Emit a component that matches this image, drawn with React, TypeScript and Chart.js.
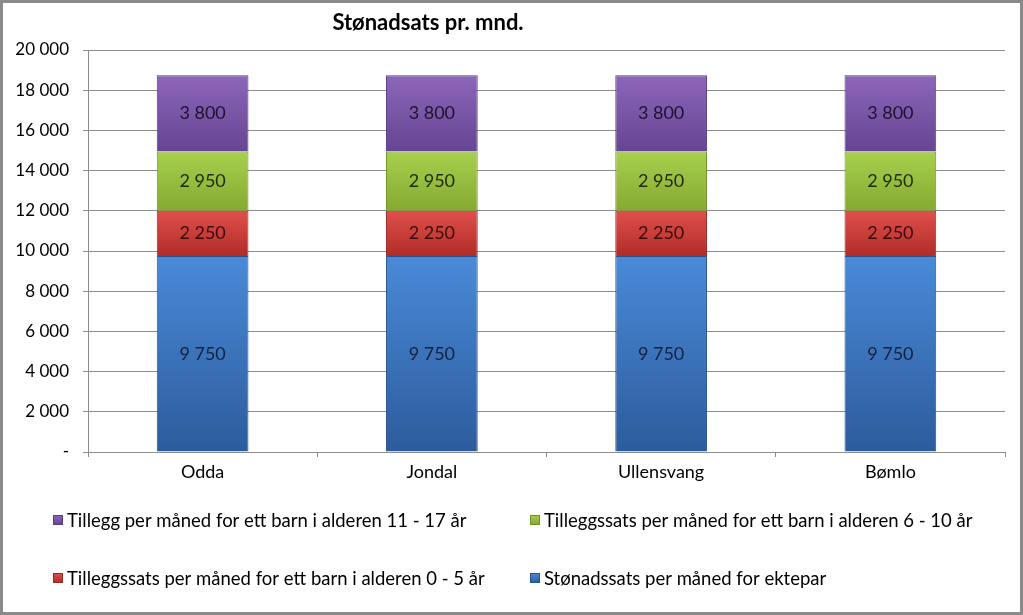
import React, { useEffect, useRef } from "react";
import { Chart, registerables } from "chart.js";

Chart.register(...registerables);

const categories = ["Odda", "Jondal", "Ullensvang", "Bømlo"];
const seriesNames = [
  "Stønadssats per måned for ektepar",
  "Tilleggssats per måned for ett barn i alderen 0 - 5 år",
  "Tilleggssats per måned for ett barn i alderen 6 - 10 år",
  "Tillegg per måned for ett barn i alderen 11 - 17 år",
];
const ektepar = [9750, 9750, 9750, 9750];
const barn0to5 = [2250, 2250, 2250, 2250];
const barn6to10 = [2950, 2950, 2950, 2950];
const barn11to17 = [3800, 3800, 3800, 3800];
const yTicks = [0, 2000, 4000, 6000, 8000, 10000, 12000, 14000, 16000, 18000, 20000];
const titleText = "Stønadsats pr. mnd.";

const palette = [
  { top: "#4a8ad8", bottom: "#2c5c9c", border: "#28538c", text: "#14223f" },
  { top: "#e0504b", bottom: "#b02c29", border: "#962826", text: "#3a0c0b" },
  { top: "#a8d04e", bottom: "#84aa30", border: "#70922a", text: "#1e2a08" },
  { top: "#8c66ba", bottom: "#664592", border: "#583c80", text: "#1e1230" },
];

const FONT = "Lato, 'Open Sans', sans-serif";

const fmt = (v: number) => {
  if (v === 0) return "-";
  return String(v).replace(/\B(?=(\d{3})+(?!\d))/g, " ");
};

export default function App() {
  const ref = useRef<HTMLCanvasElement | null>(null);

  useEffect(() => {
    document.body.style.margin = "0";
    const canvas = ref.current!;
    const values = [ektepar, barn0to5, barn6to10, barn11to17];

    const makeBg = (i: number) => (c: any) => {
      const chart = c.chart;
      const ys = chart.scales && chart.scales.y;
      if (!chart.chartArea || !ys || c.dataIndex === undefined) return palette[i].top;
      let start = 0;
      for (let k = 0; k < i; k++) start += values[k][c.dataIndex];
      const end = start + values[i][c.dataIndex];
      const y0 = ys.getPixelForValue(end);
      const y1 = ys.getPixelForValue(start);
      if (!isFinite(y0) || !isFinite(y1) || y1 - y0 < 1) return palette[i].top;
      const g = chart.ctx.createLinearGradient(0, y0, 0, y1);
      g.addColorStop(0, palette[i].top);
      g.addColorStop(1, palette[i].bottom);
      return g;
    };

    const overlay = {
      id: "overlay",
      afterDatasetsDraw(chart: any) {
        const ctx = chart.ctx;
        ctx.save();
        ctx.font = `18px ${FONT}`;
        ctx.textAlign = "center";
        ctx.textBaseline = "middle";
        chart.data.datasets.forEach((ds: any, i: number) => {
          const meta = chart.getDatasetMeta(i);
          meta.data.forEach((bar: any, j: number) => {
            ctx.fillStyle = palette[i].text;
            ctx.fillText(fmt(ds.data[j]), bar.x, (bar.y + bar.base) / 2);
          });
        });
        ctx.restore();
      },
      afterDraw(chart: any) {
        const ctx = chart.ctx;
        ctx.save();
        ctx.font = `bold 22px ${FONT}`;
        ctx.fillStyle = "#000";
        ctx.textAlign = "center";
        ctx.textBaseline = "middle";
        ctx.fillText(titleText, 425, 20);
        const order = [3, 2, 1, 0];
        ctx.font = `18.5px ${FONT}`;
        ctx.textAlign = "left";
        order.forEach((dsIndex, k) => {
          const col = k % 2;
          const row = Math.floor(k / 2);
          const bx = col === 0 ? 50 : 527;
          const by = row === 0 ? 517 : 575;
          const g = ctx.createLinearGradient(0, by - 5, 0, by + 5);
          g.addColorStop(0, palette[dsIndex].top);
          g.addColorStop(1, palette[dsIndex].bottom);
          ctx.fillStyle = g;
          ctx.fillRect(bx, by - 5, 10, 10);
          ctx.strokeStyle = palette[dsIndex].border;
          ctx.lineWidth = 1;
          ctx.strokeRect(bx + 0.5, by - 4.5, 9, 9);
          ctx.fillStyle = "#000";
          ctx.fillText(chart.data.datasets[dsIndex].label, bx + 14, by + 1);
        });
        ctx.restore();
      },
    };

    const chart = new Chart(canvas, {
      type: "bar",
      data: {
        labels: categories,
        datasets: values.map((d, i) => ({
          label: seriesNames[i],
          data: d,
          backgroundColor: makeBg(i),
          borderColor: palette[i].border,
          borderWidth: 1,
          categoryPercentage: 0.4,
          barPercentage: 1,
        })),
      },
      options: {
        animation: false,
        responsive: false,
        maintainAspectRatio: false,
        layout: { padding: { top: 47, left: 0, right: 15, bottom: 120 } },
        plugins: {
          legend: { display: false },
          title: { display: false },
          tooltip: { enabled: false },
        },
        scales: {
          x: {
            stacked: true,
            afterFit: (s: any) => {
              s.height = 40;
            },
            grid: {
              drawOnChartArea: false,
              drawTicks: true,
              tickLength: 5,
              color: "#8c8c8c",
            },
            border: { display: true, color: "#8c8c8c" },
            ticks: {
              color: "#000",
              font: { family: FONT, size: 18 },
              padding: 4,
            },
          },
          y: {
            stacked: true,
            min: 0,
            max: 20000,
            afterFit: (s: any) => {
              s.width = 85;
            },
            afterBuildTicks: (s: any) => {
              s.ticks = yTicks.map((v) => ({ value: v }));
            },
            grid: {
              color: "#8c8c8c",
              tickLength: 5,
            },
            border: { display: true, color: "#8c8c8c" },
            ticks: {
              color: "#000",
              font: { family: FONT, size: 17 },
              padding: 14,
              callback: (v: any) => fmt(Number(v)),
            },
          },
        },
      },
      plugins: [overlay],
    });
    return () => chart.destroy();
  }, []);

  return (
    <div
      style={{
        position: "absolute",
        left: 0,
        top: 0,
        width: 1023,
        height: 615,
        border: "3px solid #8a8a8a",
        boxSizing: "border-box",
        background: "#fff",
      }}
    >
      <canvas ref={ref} width={1017} height={609} style={{ display: "block" }} />
    </div>
  );
}
